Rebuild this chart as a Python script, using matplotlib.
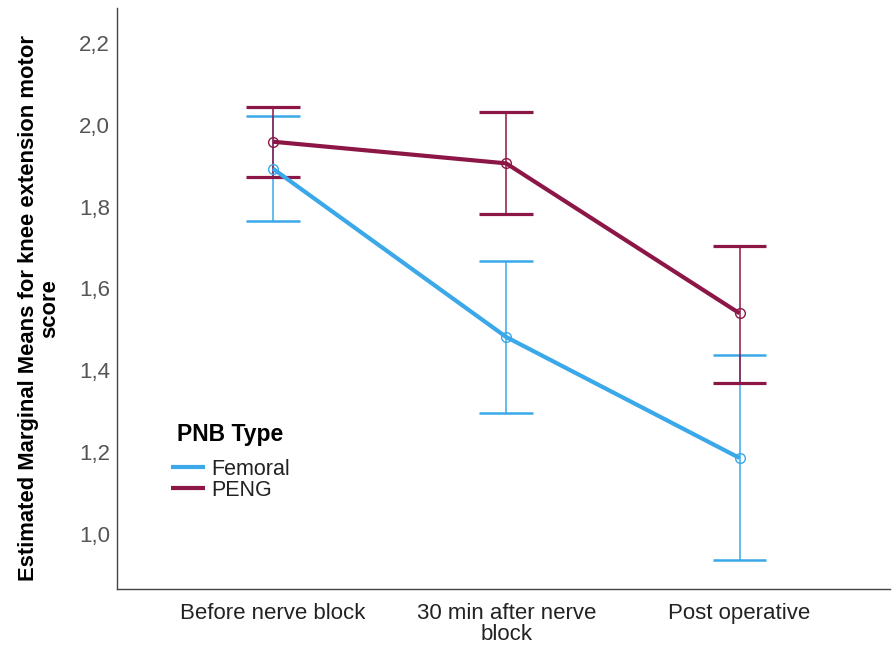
import matplotlib
matplotlib.use("Agg")
import matplotlib.pyplot as plt
import numpy as np

plt.rcParams['font.family'] = ['Liberation Sans', 'DejaVu Sans']

# Estimated marginal means with 95% CI bounds
timepoints = ["Before nerve block", "30 min after nerve\nblock", "Post operative"]
groups = ["Femoral", "PENG"]

femoral_mean = [1.893, 1.481, 1.185]
femoral_upper = [2.022, 1.667, 1.437]
femoral_lower = [1.765, 1.294, 0.935]

peng_mean = [1.959, 1.906, 1.539]
peng_upper = [2.044, 2.032, 1.704]
peng_lower = [1.873, 1.781, 1.369]

yticks = [1.0, 1.2, 1.4, 1.6, 1.8, 2.0, 2.2]
ytick_labels = ["1,0", "1,2", "1,4", "1,6", "1,8", "2,0", "2,2"]

colors = {"Femoral": "#3AA8E9", "PENG": "#8C1747"}

fig = plt.figure(figsize=(8.92, 6.48), dpi=100)
ax = fig.add_axes([0.131, 0.0915, 0.867, 0.896])

x = np.arange(len(timepoints))
series = [
    ("Femoral", femoral_mean, femoral_lower, femoral_upper, 1.8),
    ("PENG", peng_mean, peng_lower, peng_upper, 2.3),
]

for name, mean, lo, hi, cap_lw in series:
    c = colors[name]
    mean = np.array(mean)
    lo = np.array(lo)
    hi = np.array(hi)
    # confidence interval whiskers
    ax.vlines(x, lo, hi, color=c, lw=1.1, zorder=2)
    ax.hlines(lo, x - 0.115, x + 0.115, color=c, lw=cap_lw, zorder=2)
    ax.hlines(hi, x - 0.115, x + 0.115, color=c, lw=cap_lw, zorder=2)
    # mean profile
    ax.plot(x, mean, color=c, lw=3.0, label=name, zorder=3,
            solid_capstyle='butt')
    ax.plot(x, mean, ls='none', marker='o', ms=7, mfc='none', mec=c,
            mew=1.0, zorder=4)

ax.set_xlim(-0.669, 2.646)
ax.set_ylim(0.865, 2.286)
ax.set_xticks(x)
ax.set_xticklabels(timepoints, fontsize=16, color="#222222", linespacing=1.0)
ax.set_yticks(yticks)
ax.set_yticklabels(ytick_labels, fontsize=16, color="#555555")
ax.tick_params(axis='x', length=0, pad=10)
ax.tick_params(axis='y', length=0, pad=5)

for side in ("top", "right"):
    ax.spines[side].set_visible(False)
for side in ("left", "bottom"):
    ax.spines[side].set_color("#444444")
    ax.spines[side].set_linewidth(1.0)

ax.set_ylabel("Estimated Marginal Means for knee extension motor\nscore",
              fontsize=15.8, fontweight='bold', linespacing=1.05)
ax.yaxis.set_label_coords(-0.073, 0.483)

leg = ax.legend(title="PNB Type", frameon=False, loc='upper left',
                bbox_to_anchor=(0.045, 0.318), fontsize=15.5,
                title_fontproperties={'weight': 'bold', 'size': 16.5},
                handlelength=1.6, handletextpad=0.25, labelspacing=0.0,
                alignment='left')
leg._legend_box.sep = 9
leg.get_title().set_position((6, 0))
for t in leg.get_texts():
    t.set_color("#222222")

fig.savefig("out.png", dpi=100, facecolor="white")
